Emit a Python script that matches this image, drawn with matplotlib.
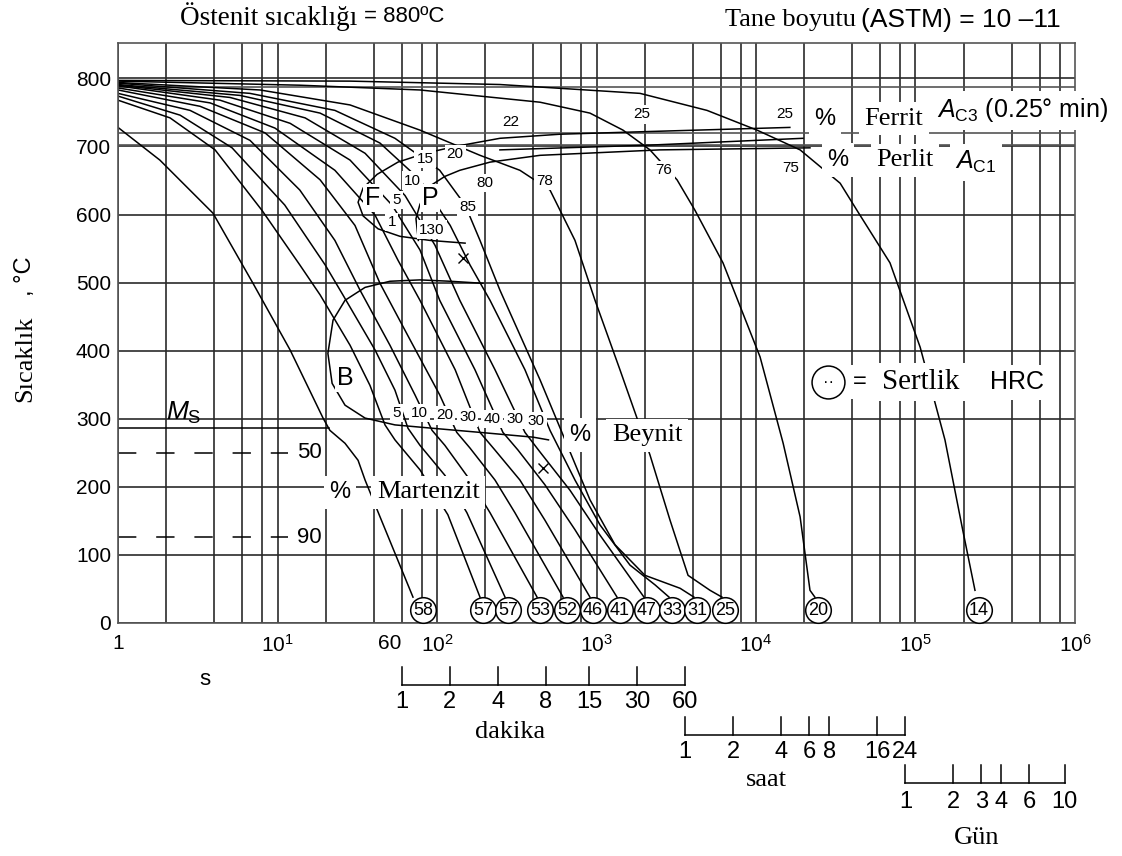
import matplotlib
matplotlib.use('Agg')
import numpy as np
import matplotlib.pyplot as plt

SERIF = 'Liberation Serif'
SANS = 'Liberation Sans'
plt.rcParams['font.family'] = SANS
plt.rcParams['mathtext.fontset'] = 'custom'
plt.rcParams['mathtext.rm'] = SANS
plt.rcParams['mathtext.it'] = SANS + ':italic'

# ---- cooling curves: time (s), temperature (C) ----
t_a = [1, 1.83, 3.94, 7.02, 12.0, 19.3, 21.3, 26.5, 32.0, 35.4, 42.7, 70.7]
T_a = [728, 680, 602, 499, 401, 301, 283, 264, 239, 210, 163, 38]
t_b = [1, 2.12, 4.06, 8.0, 13.8, 18.5, 28.5, 38.0, 47.2, 54.5, 78.2, 117, 186]
T_b = [768, 742, 695, 606, 526, 482, 408, 349, 291, 269, 225, 159, 38]
t_c = [1, 2.45, 5.19, 11.1, 19.9, 25.7, 40.9, 54.5, 65.8, 78.2, 112, 154, 267]
T_c = [774, 746, 698, 614, 526, 482, 401, 342, 286, 261, 217, 162, 38]
t_d = [1, 2.83, 6.72, 13.8, 22.9, 32.9, 50.7, 72.8, 93.1, 112, 161, 215, 424]
T_d = [778, 753, 709, 636, 562, 489, 408, 335, 283, 261, 210, 162, 38]
t_e = [1, 3.27, 8.35, 18.5, 30.6, 43.9, 67.8, 104, 133, 161, 231, 308, 617]
T_e = [783, 759, 720, 651, 584, 499, 416, 335, 280, 257, 210, 162, 38]
t_f = [1, 3.78, 9.64, 22.9, 40.9, 56.9, 78.2, 130, 186, 231, 331, 475, 910]
T_f = [786, 764, 727, 665, 599, 533, 474, 372, 280, 254, 210, 151, 38]
t_g = [1, 4.36, 12.0, 28.5, 52.2, 78.2, 104, 173, 259, 322, 475, 733, 1345]
T_g = [789, 768, 734, 680, 614, 548, 474, 372, 280, 254, 203, 137, 38]
t_h = [1, 5.04, 14.9, 35.4, 63.0, 97.1, 139, 231, 356, 443, 682, 1052, 1985]
T_h = [790, 772, 742, 690, 628, 555, 474, 372, 280, 251, 195, 129, 38]
t_i = [1, 5.82, 18.5, 43.9, 78.2, 121, 161, 215, 356, 511, 733, 1052, 1622, 2328, 2851]
T_i = [791, 775, 749, 705, 651, 584, 526, 474, 372, 283, 210, 144, 85, 56, 38]
t_j = [1, 6.72, 22.9, 54.5, 104, 150, 186, 248, 443, 635, 910, 1306, 2014, 3342, 4083]
T_j = [793, 778, 753, 712, 665, 614, 562, 489, 357, 269, 181, 115, 70, 51, 38]
t_k = [1, 7.77, 28.5, 78.2, 186, 331, 511, 733, 979, 1403, 2163, 2891, 3750, 5150, 6120]
T_k = [794, 783, 761, 724, 687, 665, 636, 562, 474, 372, 247, 151, 70, 48, 38]
t_l = [1, 13.8, 78.2, 443, 910, 1466, 2163, 3199, 4150, 6210, 10600, 14800, 18900, 21800, 23400]
T_l = [796, 790, 783, 765, 749, 724, 695, 651, 606, 529, 391, 264, 156, 48, 38]
t_m = [1, 28.5, 248, 1875, 4930, 10150, 18900, 33700, 43000, 69200, 107000, 153000, 196000, 236000]
T_m = [797, 796, 791, 778, 753, 724, 695, 646, 606, 529, 405, 269, 141, 48]

# hardness (HRC) circles at the end of each curve
hrc_t = [81.7, 194, 279, 443, 653, 950, 1403, 2074, 2972, 4266, 6394, 24500, 250000]
hrc_val = [58, 57, 57, 53, 52, 46, 41, 47, 33, 31, 25, 20, 14]

# transformation boundaries
ferrit_t = [150, 90.4, 58.6, 42.7, 34.4, 32.0, 34.4, 42.1, 56.9, 84.1, 130, 248, 590, 2163, 16300]
ferrit_T = [558, 562, 568, 579, 598, 618, 639, 659, 677, 690, 700, 712, 718, 722, 728]
perlit_t = [76.4, 73.8, 78.2, 90.4, 112, 139, 215, 443, 2500, 21800]
perlit_T = [562, 594, 615, 642, 656, 665, 677, 687, 695, 698]
ferrit_end_t = [248, 2163, 19700]
ferrit_end_T = [695, 702, 712]
beynit_t = [194, 121, 78.2, 50.7, 35.4, 26.5, 22.3, 20.7, 22.0, 26.5, 35.4, 54.5, 94.4, 186, 400, 500]
beynit_T = [499, 502, 504, 502, 493, 474, 445, 396, 352, 320, 301, 291, 286, 280, 273, 269]
Ms = 287
M50, M90 = 249, 127
Ac3, Ac1, T_top = 720, 702, 787

# small percentage labels (text, t, T)
pct_labels = [('1', 52, 589), ('5', 56, 621), ('10', 70, 650), ('15', 84, 682),
              ('20', 130, 689), ('80', 200, 646), ('85', 156, 611), ('130', 93, 578),
              ('22', 291, 736), ('25', 1928, 747), ('78', 475, 650), ('76', 2650, 665),
              ('25', 15200, 747), ('75', 16600, 669)]
bain_labels = [('5', 56, 309), ('10', 78, 308), ('20', 112, 305), ('30', 156, 302),
               ('40', 221, 300), ('30', 308, 299), ('30', 418, 297)]

dak_ticks = [1, 2, 4, 8, 15, 30, 60]
saat_ticks = [1, 2, 4, 6, 8, 16, 24]
gun_ticks = [1, 2, 3, 4, 6, 10]

fig = plt.figure(figsize=(11.22, 8.56), dpi=100)
ax = fig.add_axes([0.10517, 0.27220, 0.85294, 0.67757])
ax.set_xscale('log')
ax.set_xlim(1, 1e6)
ax.set_ylim(0, 852)

# grid
for dec in range(6):
    for k in [1, 2, 4, 6, 8]:
        ax.axvline(k * 10**dec, color='#2a2a2a', lw=1.2, zorder=1)
for T in range(0, 900, 100):
    ax.axhline(T, color='#2a2a2a', lw=1.2, zorder=1)
for T in [T_top, Ac3, Ac1]:
    ax.axhline(T, color='#555555', lw=1.2, zorder=1)

curves = [(t_a, T_a), (t_b, T_b), (t_c, T_c), (t_d, T_d), (t_e, T_e), (t_f, T_f),
          (t_g, T_g), (t_h, T_h), (t_i, T_i), (t_j, T_j), (t_k, T_k), (t_l, T_l), (t_m, T_m)]
for tt, TT in curves:
    ax.plot(tt, TT, color='black', lw=1.1, zorder=2)

ax.plot(ferrit_t, ferrit_T, color='black', lw=1.1, zorder=2)
ax.plot(perlit_t, perlit_T, color='black', lw=1.1, zorder=2)
ax.plot(ferrit_end_t, ferrit_end_T, color='black', lw=1.1, zorder=2)
ax.plot(beynit_t, beynit_T, color='black', lw=1.1, zorder=2)
ax.plot([1, 21], [Ms, Ms], color='black', lw=1.1, zorder=2)
ax.plot([1, 11.7], [M50, M50], color='black', lw=1.1, ls=(0, (12, 13)), zorder=2)
ax.plot([1, 11.7], [M90, M90], color='black', lw=1.1, ls=(0, (12, 13)), zorder=2)
ax.plot([146, 462], [536, 228], 'x', color='black', ms=7, mew=1, zorder=2)

# hardness circles
ax.scatter(hrc_t, [19] * len(hrc_t), s=340, facecolor='white', edgecolor='black',
           lw=1.1, zorder=4, clip_on=False)
for tt, v in zip(hrc_t, hrc_val):
    ax.text(tt, 19, str(v), ha='center', va='center', fontsize=13, zorder=5)

wb = dict(facecolor='white', edgecolor='none', pad=1.5)
for s, tt, TT in pct_labels:
    ax.text(tt, TT, s, ha='center', va='center', fontsize=11, bbox=wb, zorder=5)
for s, tt, TT in bain_labels:
    ax.text(tt, TT, s, ha='center', va='center', fontsize=11, bbox=wb, zorder=5)

big = dict(facecolor='white', edgecolor='none', pad=4)
ax.text(39.7, 624, 'F', ha='center', va='center', fontsize=18, bbox=wb, zorder=5)
ax.text(90.4, 624, 'P', ha='center', va='center', fontsize=18, bbox=wb, zorder=5)
ax.text(26.5, 360, 'B', ha='center', va='center', fontsize=18, bbox=wb, zorder=5)
ax.text(2.0, 308, r'$M_{\mathrm{S}}$', ha='left', va='center', fontsize=19, zorder=5)

ax.text(24.6, 192, '%', ha='center', va='center', fontsize=17, bbox=big, zorder=5)
ax.text(42, 192, 'Martenzit', ha='left', va='center', fontsize=19, family=SERIF, bbox=big, zorder=5)
ax.text(790, 276, '%', ha='center', va='center', fontsize=17, bbox=big, zorder=5)
ax.text(1250, 276, 'Beynit', ha='left', va='center', fontsize=19, family=SERIF, bbox=big, zorder=5)
ax.text(27100, 741, '%', ha='center', va='center', fontsize=17, bbox=big, zorder=5)
ax.text(48000, 741, 'Ferrit', ha='left', va='center', fontsize=19, family=SERIF, bbox=big, zorder=5)
ax.text(32700, 680, '%', ha='center', va='center', fontsize=17, bbox=big, zorder=5)
ax.text(57000, 680, 'Perlit', ha='left', va='center', fontsize=19, family=SERIF, bbox=big, zorder=5)
ax.text(136000, 753, r'$A_{\mathrm{C3}}$ (0.25° min)', ha='left', va='center', fontsize=18,
        bbox=big, zorder=5, clip_on=False)
ax.text(177000, 677, r'$A_{\mathrm{C1}}$', ha='left', va='center', fontsize=18, bbox=big, zorder=5)
ax.text(13.3, 250, '50', ha='left', va='center', fontsize=16, bbox=wb, zorder=5)
ax.text(13.3, 126, '90', ha='left', va='center', fontsize=16, bbox=wb, zorder=5)

# hardness legend
ax.scatter([28300], [354], s=560, facecolor='white', edgecolor='black', lw=1.1, zorder=6)
ax.text(28300, 354, '··', ha='center', va='center', fontsize=12, zorder=7)
ax.text(44900, 354, '=', ha='center', va='center', fontsize=17, bbox=big, zorder=5)
ax.text(61700, 354, 'Sertlik', ha='left', va='center', fontsize=21, family=SERIF, bbox=big, zorder=5)
ax.text(293000, 354, 'HRC', ha='left', va='center', fontsize=18, bbox=big, zorder=5)

# axes ticks
ax.set_xticks([1, 10, 100, 1e3, 1e4, 1e5, 1e6])
ax.set_xticklabels(['1', '$10^{1}$', '$10^{2}$', '$10^{3}$', '$10^{4}$', '$10^{5}$', '$10^{6}$'])
ax.xaxis.set_minor_locator(matplotlib.ticker.NullLocator())
ax.set_yticks(range(0, 900, 100))
ax.tick_params(length=0, labelsize=15, pad=8)
ax.tick_params(axis='y', pad=5)
for sp in ax.spines.values():
    sp.set_color('#555555')
    sp.set_linewidth(1.2)

xt = ax.get_xaxis_transform()
ax.text(60, -0.0345, '60', transform=xt, ha='right', va='center', fontsize=15)
ax.text(3.5, -0.098, 's', transform=xt, ha='center', va='center', fontsize=16)

# time scales below the axis
def sub_scale(secs, labels, y_line, y_tick, y_lab):
    ax.plot([secs[0], secs[-1]], [y_line, y_line], transform=xt, color='black', lw=1.1, clip_on=False)
    for s_, lab in zip(secs, labels):
        ax.plot([s_, s_], [y_line, y_tick], transform=xt, color='black', lw=1.1, clip_on=False)
        ax.text(s_, y_lab, str(lab), transform=xt, ha='center', va='center', fontsize=17)

sub_scale([m * 60 for m in dak_ticks], dak_ticks, -0.107, -0.076, -0.136)
sub_scale([h * 3600 for h in saat_ticks], saat_ticks, -0.193, -0.162, -0.222)
sub_scale([g * 86400 for g in gun_ticks], gun_ticks, -0.276, -0.245, -0.309)
ax.text(287, -0.188, 'dakika', transform=xt, ha='center', va='center', fontsize=19, family=SERIF)
ax.text(11560, -0.271, 'saat', transform=xt, ha='center', va='center', fontsize=19, family=SERIF)
ax.text(243000, -0.371, 'Gün', transform=xt, ha='center', va='center', fontsize=19, family=SERIF)

# titles and y label
t1 = ax.text(0.065, 1.045, 'Östenit sıcaklığı', transform=ax.transAxes, ha='left', va='center',
             fontsize=19.5, family=SERIF)
ax.annotate('= 880ºC', xy=(1, 0.5), xycoords=t1, xytext=(5, 0), textcoords='offset points',
            ha='left', va='center', fontsize=16)
t2 = ax.text(0.634, 1.040, 'Tane boyutu', transform=ax.transAxes, ha='left', va='center',
             fontsize=19, family=SERIF)
ax.annotate('(ASTM) = 10 –11', xy=(1, 0.5), xycoords=t2, xytext=(4, 0), textcoords='offset points',
            ha='left', va='center', fontsize=19)
ax.text(-0.097, 0.455, 'Sıcaklık', transform=ax.transAxes, rotation=90, ha='center', va='center',
        fontsize=19, family=SERIF)
ax.text(-0.097, 0.597, ', °C', transform=ax.transAxes, rotation=90, ha='center', va='center',
        fontsize=17)

fig.savefig('out.png', dpi=100)
